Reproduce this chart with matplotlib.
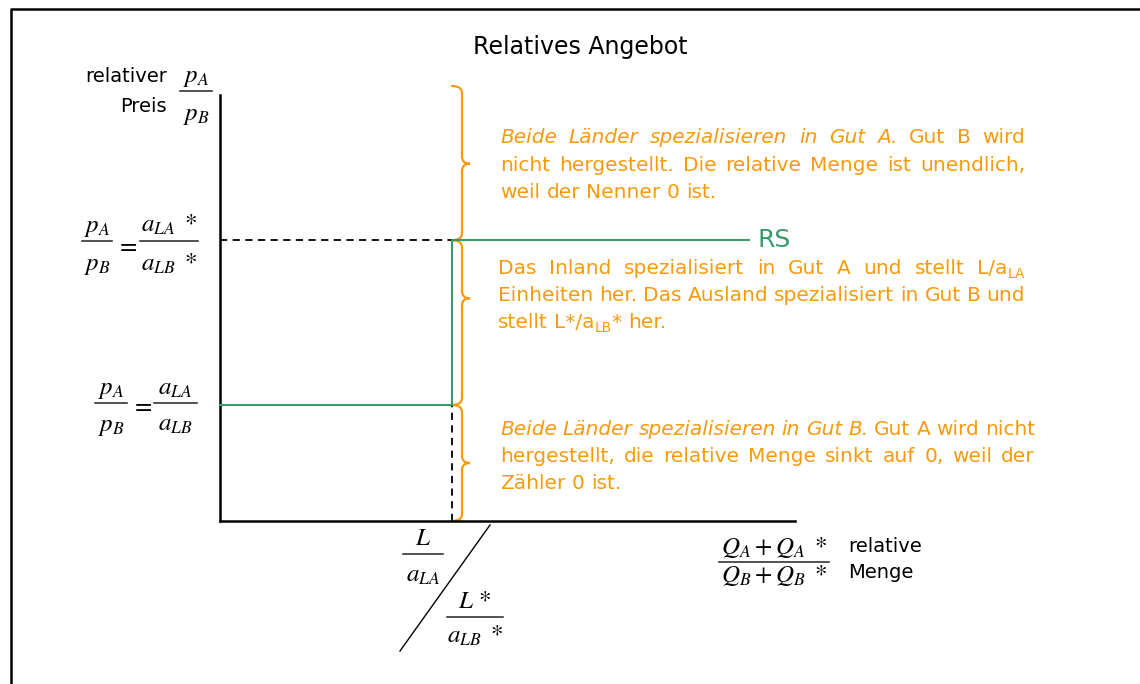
import matplotlib.pyplot as plt
from matplotlib.path import Path
from matplotlib.patches import PathPatch
from matplotlib.transforms import Affine2D

plt.rcParams['font.family'] = 'DejaVu Sans'
plt.rcParams['mathtext.fontset'] = 'stix'

# relatives Angebot (RS): relative Menge q, relativer Preis p
q_star = 1.0      # (L/a_LA) / (L*/a_LB*)
p_low = 1.0       # a_LA / a_LB
p_high = 2.42     # a_LA* / a_LB*
p_top = 3.67      # end of price axis
q_end = 2.28      # end of RS line
q_axis = 2.48     # end of quantity axis

rs_q = [0.0, q_star, q_star, q_end]
rs_p = [p_low, p_low, p_high, p_high]

# brace spans (p from, p to, p of tip)
braces = [(p_high, 3.75, 3.08), (p_low, p_high, 1.92), (0.0, p_low, 0.5)]

title = 'Relatives Angebot'
block1 = [
    [('Beide Länder spezialisieren in Gut A.', 'i'), (' Gut B wird', 'n')],
    [('nicht hergestellt. Die relative Menge ist unendlich,', 'n')],
    [('weil der Nenner 0 ist.', 'n')],
]
block2 = [
    [('Das Inland spezialisiert in Gut A und stellt L/a', 'n'), ('LA', 'sub')],
    [('Einheiten her. Das Ausland spezialisiert in Gut B und', 'n')],
    [('stellt L*/a', 'n'), ('LB', 'sub'), ('* her.', 'n')],
]
block3 = [
    [('Beide Länder spezialisieren in Gut B.', 'i'), (' Gut A wird nicht', 'n')],
    [('hergestellt, die relative Menge sinkt auf 0, weil der', 'n')],
    [('Zähler 0 ist.', 'n')],
]

orange = '#F79A0E'
green = '#3A9A6A'

W, H = 1140, 684
x0_px, y0_px = 220, 521   # origin of the diagram in pixels
ux, uy = 232, 116          # pixels per unit

fig = plt.figure(figsize=(W / 100, H / 100), dpi=100)
ax = fig.add_axes([0, 0, 1, 1])
ax.set_xlim(-x0_px / ux, (W - x0_px) / ux)
ax.set_ylim(-(H - y0_px) / uy, y0_px / uy)
ax.axis('off')

# image pixel coordinates (y downwards)
img = Affine2D().scale(1, -1).translate(0, H)


def px(q, p):
    return x0_px + q * ux, y0_px - p * uy


# frame
ax.plot([11, 11, W], [H, 9, 9], transform=img, color='black', lw=1.8, clip_on=False)

# axes
ax.plot([0, 0], [0, p_top], color='black', lw=1.8)
ax.plot([0, q_axis], [0, 0], color='black', lw=1.8)

# dashed guides
ax.plot([0, q_star], [p_high, p_high], color='black', lw=1.3, ls=(0, (4, 3)))
ax.plot([q_star, q_star], [0, p_low], color='black', lw=1.3, ls=(0, (4, 3)))

# RS
ax.plot(rs_q, rs_p, color=green, lw=1.5)


def brace(q, pb, pt, ptip):
    xl, yt = px(q, pt)
    _, yb = px(q, pb)
    _, ym = px(q, ptip)
    xb, xt, r = xl + 10, xl + 18, 7
    verts = [(xl, yt), (xb, yt), (xb, yt + r), (xb, ym - r), (xb, ym), (xt, ym),
             (xb, ym), (xb, ym + r), (xb, yb - r), (xb, yb), (xl, yb)]
    codes = [Path.MOVETO, Path.CURVE3, Path.CURVE3, Path.LINETO, Path.CURVE3, Path.CURVE3,
             Path.CURVE3, Path.CURVE3, Path.LINETO, Path.CURVE3, Path.CURVE3]
    ax.add_patch(PathPatch(Path(verts, codes), transform=img, fill=False,
                           edgecolor=orange, lw=1.6, capstyle='round'))


for b in braces:
    brace(q_star, *b)

r = fig.canvas.get_renderer()


def width(t):
    return t.get_window_extent(r).width


def text_line(segs, x, y, right, justify, size=14.5):
    words = []
    for txt, style in segs:
        if style == 'sub':
            words[-1].append((txt, style))
            continue
        for i, part in enumerate(txt.split(' ')):
            if part == '':
                continue
            if i == 0 and words:
                words[-1].append((part, style))
            else:
                words.append([(part, style)])
    items = []
    total = 0
    for w in words:
        arts = []
        for txt, style in w:
            t = ax.text(0, 0, txt, color=orange, fontsize=size * (0.68 if style == 'sub' else 1),
                        style='italic' if style == 'i' else 'normal',
                        transform=img, ha='left', va='baseline')
            arts.append((t, style, width(t)))
            total += width(t)
        items.append(arts)
    a = ax.text(0, 0, 'a a', fontsize=size)
    b = ax.text(0, 0, 'aa', fontsize=size)
    space = width(a) - width(b)
    a.remove()
    b.remove()
    gap = (right - x - total) / (len(items) - 1) if justify else space
    cx = x
    for arts in items:
        for t, style, w in arts:
            t.set_position((cx, y + (4 if style == 'sub' else 0)))
            cx += w
        cx += gap


def block(lines, x, right, ys):
    for k, (segs, y) in enumerate(zip(lines, ys)):
        text_line(segs, x, y, right, k < len(lines) - 1)


block(block1, 500, 1025, [143, 171, 198])
block(block2, 498, 1025, [274, 301, 328])
block(block3, 500, 1035, [435, 462, 489])

# titles and labels
ax.text(580, 47, title, transform=img, ha='center', va='center', fontsize=17)
ax.text(757, 240, 'RS', transform=img, ha='left', va='center', fontsize=18, color=green)
ax.text(167, 77, 'relativer', transform=img, ha='right', va='center', fontsize=14)
ax.text(167, 106, 'Preis', transform=img, ha='right', va='center', fontsize=14)
ax.text(848, 546, 'relative', transform=img, ha='left', va='center', fontsize=14)
ax.text(848, 573, 'Menge', transform=img, ha='left', va='center', fontsize=14)

ms = 18


def frac(xl, xr, y, num, den, up, down):
    ax.plot([xl, xr], [y, y], transform=img, color='#222222', lw=1.1)
    xc = (xl + xr) / 2
    ax.text(xc, y - up, num, transform=img, ha='center', va='baseline', fontsize=ms)
    ax.text(xc, y + down, den, transform=img, ha='center', va='baseline', fontsize=ms)


frac(180, 212, 91, r'$p_A$', r'$p_B$', 9, 29)

frac(82, 112, 241, r'$p_A$', r'$p_B$', 9, 29)
ax.text(127, 245, r'$=$', transform=img, ha='center', va='center', fontsize=ms)
frac(140, 198, 241, r'$a_{LA}\ *$', r'$a_{LB}\ *$', 9, 30)

frac(95, 127, 403, r'$p_A$', r'$p_B$', 9, 28)
ax.text(142, 405, r'$=$', transform=img, ha='center', va='center', fontsize=ms)
frac(154, 197, 403, r'$a_{LA}$', r'$a_{LB}$', 8, 28)

frac(403, 443, 554, r'$L$', r'$a_{LA}$', 9, 28)
frac(447, 503, 617, r'$L\,*$', r'$a_{LB}\ *$', 9, 26)
frac(719, 829, 562, r'$Q_A+Q_A\ *$', r'$Q_B+Q_B\ *$', 8, 20)

# diagonal separator
ax.plot([490, 400], [525, 651], transform=img, color='black', lw=1.0)

fig.savefig('out.png', dpi=100)
